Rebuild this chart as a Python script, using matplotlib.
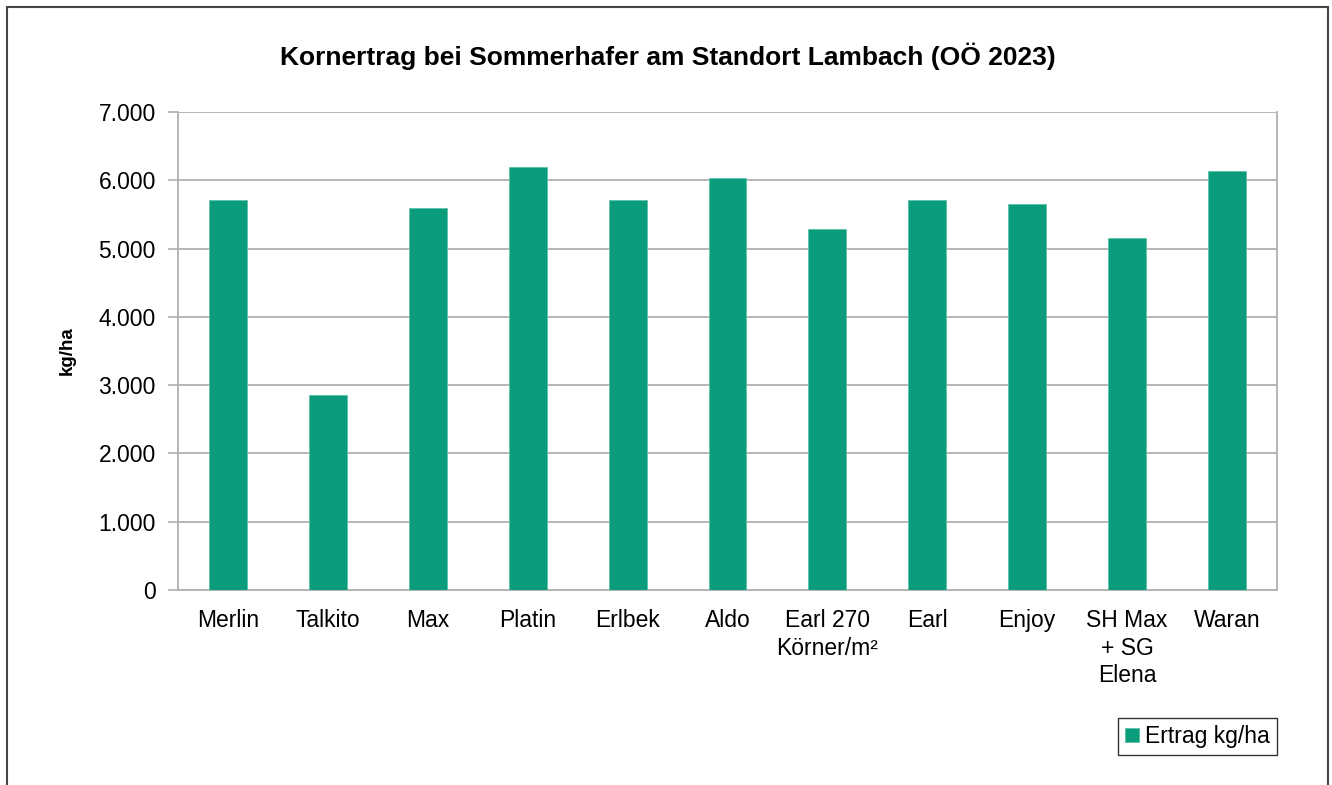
import matplotlib.pyplot as plt
import numpy as np
from matplotlib.patches import Rectangle
from matplotlib.ticker import FuncFormatter

# data
sorten = ['Merlin', 'Talkito', 'Max', 'Platin', 'Erlbek', 'Aldo',
          'Earl 270\nKörner/m²', 'Earl', 'Enjoy', 'SH Max\n+ SG\nElena', 'Waran']
ertrag = [5710, 2860, 5600, 6200, 5710, 6030, 5290, 5710, 5650, 5150, 6130]

plt.rcParams['font.family'] = ['Liberation Sans', 'DejaVu Sans']

W, H = 1332, 785
fig = plt.figure(figsize=(W / 100, H / 100), dpi=100)
ax = fig.add_axes([178 / W, 1 - 590 / H, (1277 - 178) / W, (590 - 112) / H])

x = np.arange(len(sorten))
ax.bar(x, ertrag, width=0.38, color='#0b9c7b', edgecolor='#5cc2a8', linewidth=0.6,
       label='Ertrag kg/ha', zorder=3)

ax.set_xlim(-0.5, len(sorten) - 0.5)
ax.set_ylim(0, 7000)
ax.set_yticks(np.arange(0, 7001, 1000))
ax.yaxis.set_major_formatter(FuncFormatter(lambda v, p: f'{int(v):,}'.replace(',', '.')))
ax.set_xticks(x)
ax.set_xticklabels(sorten, va='top', linespacing=1.25)
ax.tick_params(axis='x', length=0, pad=14, labelsize=16.5)
ax.tick_params(axis='y', length=7, width=1.2, color='#b0b0b0', pad=9, labelsize=16.5)

ax.grid(axis='y', color='#b0b0b0', lw=1.3, zorder=0)
for s in ['left', 'right', 'bottom']:
    ax.spines[s].set_color('#b0b0b0')
    ax.spines[s].set_linewidth(1.3)
ax.spines['top'].set_visible(False)

ax.set_ylabel('kg/ha', fontsize=13.5, fontweight='bold')
ax.yaxis.set_label_coords((76 - 178) / (1277 - 178), 0.5)
fig.text(668 / W, 1 - 56 / H, 'Kornertrag bei Sommerhafer am Standort Lambach (OÖ 2023)',
         ha='center', va='center', fontsize=19, fontweight='bold')

fig.legend(loc='upper right', bbox_to_anchor=(1277 / W, 1 - 718 / H), fontsize=16.5,
           frameon=True, fancybox=False, edgecolor='black', handlelength=0.6,
           handleheight=0.6, handletextpad=0.3, borderpad=0.3, borderaxespad=0)

# outer frame of the chart
fig.add_artist(Rectangle((7 / W, -0.1), (1328 - 7) / W, 1.1 - 7 / H,
                         transform=fig.transFigure, fill=False, ec='#444444', lw=1.5))

plt.savefig('out.png', dpi=100)
